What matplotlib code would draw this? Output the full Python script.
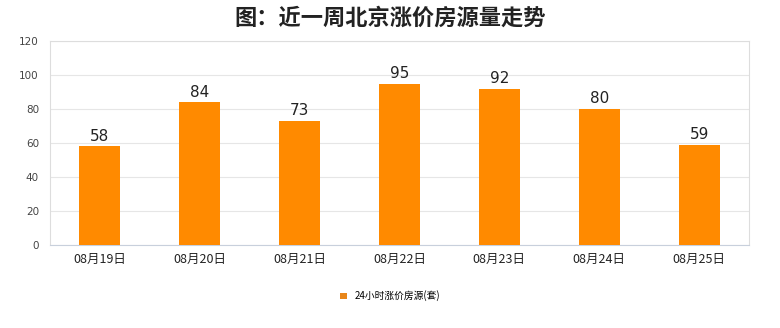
import matplotlib
matplotlib.use("Agg")
import matplotlib.pyplot as plt
from matplotlib.patches import Patch

plt.rcParams['font.family'] = ['Noto Sans CJK SC', 'DejaVu Sans']

dates = ["08月19日", "08月20日", "08月21日", "08月22日", "08月23日", "08月24日", "08月25日"]
values = [58, 84, 73, 95, 92, 80, 59]
series_name = "24小时涨价房源(套)"
title = "图：近一周北京涨价房源量走势"
yticks = [0, 20, 40, 60, 80, 100, 120]

bar_color = "#FF8A00"

fig = plt.figure(figsize=(7.8, 3.28), dpi=100)
fig.patch.set_facecolor("white")
ax = fig.add_axes([50/780, 1 - 245/328, (749-50)/780, (245-41)/328])

x = list(range(len(dates)))
bars = ax.bar(x, values, width=0.41, color=bar_color, zorder=3)
for xi, v in zip(x, values):
    ax.text(xi, v + 1.5, str(v), ha="center", va="bottom", fontsize=11, color="#222222",
            family=['DejaVu Sans'])

ax.set_xlim(-0.5, len(dates) - 0.5)
ax.set_ylim(0, 120)
ax.set_yticks(yticks)
ax.set_yticklabels([str(t) for t in yticks], fontsize=7.5, color="#444444", family=['DejaVu Sans'])
ax.set_xticks(x)
ax.set_xticklabels(dates, fontsize=9, color="#222222")
ax.tick_params(axis='both', length=0, pad=6)
ax.tick_params(axis='y', pad=8)
ax.grid(axis='y', color="#e6e6e6", linewidth=0.8, zorder=0)
for s in ax.spines.values():
    s.set_color("#dddddd")
    s.set_linewidth(0.8)
ax.spines['bottom'].set_color("#c8d0dc")

fig.text(0.5, 1 - 18/328, title, ha="center", va="center", fontsize=16, fontweight="bold", color="#222222")

handles = [Patch(facecolor="#E8861A", edgecolor="none", label=series_name)]
fig.legend(handles=handles, loc="center", bbox_to_anchor=(0.5, 1 - 296/328), frameon=False,
           fontsize=7, handlelength=0.7, handleheight=0.7, handletextpad=0.8)

fig.savefig("out.png", dpi=100, facecolor="white")
